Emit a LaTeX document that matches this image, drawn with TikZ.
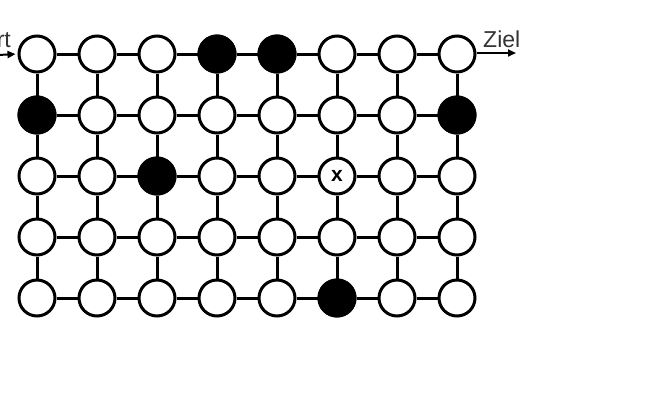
\documentclass[tikz,border=0pt]{standalone}
\usepackage{fontspec}
\setmainfont{Liberation Sans}
\usetikzlibrary{arrows.meta,backgrounds}
\begin{document}
\begin{tikzpicture}[x=1pt,y=1pt,
  cell/.style={circle,draw=black,line width=3pt,fill=white,minimum size=36pt,inner sep=0pt},
  blk/.style={cell,fill=black},
  link/.style={line width=3pt},
  io/.style={line width=2pt,-{Triangle[length=8pt,width=7pt]}},
  lbl/.style={font=\fontsize{23}{25}\selectfont,text=black!80,inner sep=0pt}]
\useasboundingbox (0,0) rectangle (650,-400);
\foreach \r/\y in {1/54,2/115,3/176,4/237,5/298}{
  \foreach \c/\x in {1/37,2/97,3/157,4/217,5/277,6/337,7/397,8/457}{
    \node[cell] (n\r\c) at (\x,-\y) {};
  }
}
% black cells
\foreach \n in {n14,n15,n21,n28,n33,n56}{
  \node[blk] at (\n) {};
}
\node[font=\fontsize{21}{23}\selectfont\bfseries,inner sep=0pt] (xlbl) at (n36) {x};
% edges
\begin{scope}[on background layer]
\foreach \r in {1,...,5}{
  \foreach \c [evaluate=\c as \d using int(\c+1)] in {1,...,7}{
    \draw[link] (n\r\c) -- (n\r\d);
  }
}
\foreach \r [evaluate=\r as \s using int(\r+1)] in {1,...,4}{
  \foreach \c in {1,...,8}{
    \draw[link] (n\r\c) -- (n\s\c);
  }
}
\end{scope}
% start / ziel
\coordinate (sa) at (-2,-55);
\coordinate (za) at (516,-53);
\draw[io,shorten >=2pt] (sa) -- (n11.west);
\draw[io] (n18.east |- za) -- (za);
\node[lbl,anchor=base east] (start) at (11,-47) {Start};
\node[lbl,anchor=base west] (ziel) at (483,-47) {Ziel};
\end{tikzpicture}
\end{document}
